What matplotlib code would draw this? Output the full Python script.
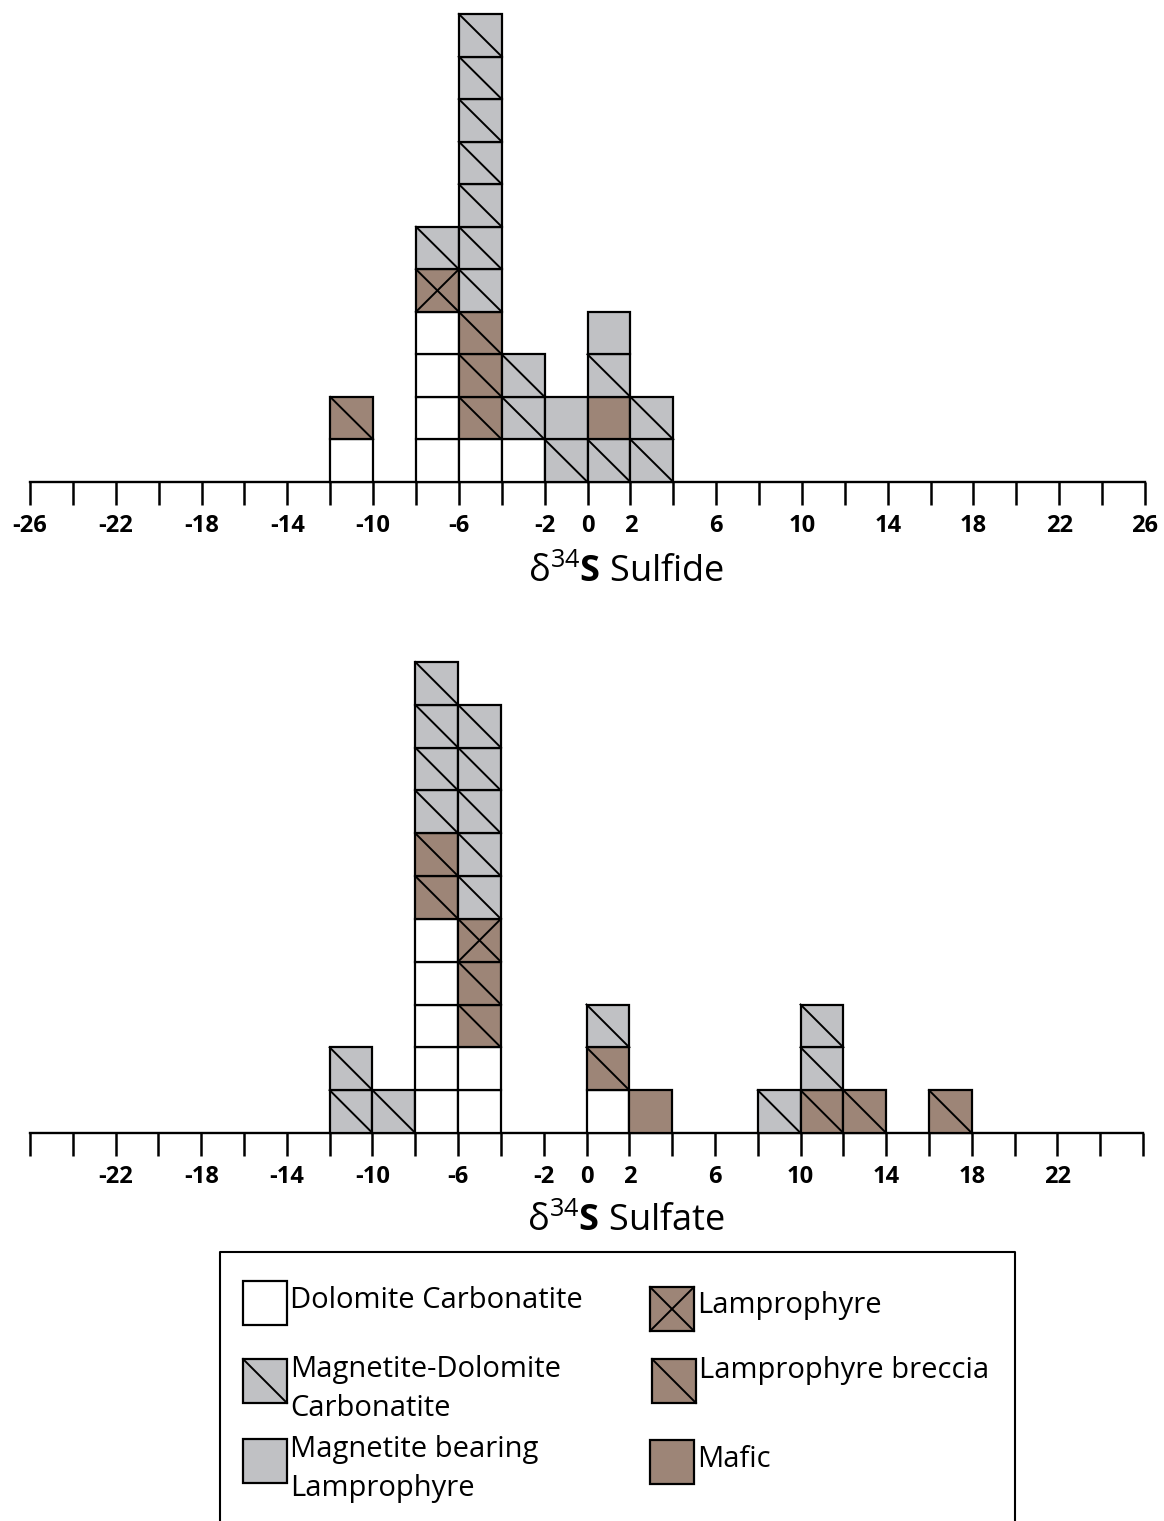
import matplotlib.pyplot as plt
from matplotlib.patches import Rectangle

plt.rcParams['font.family'] = ['Open Sans', 'DejaVu Sans']
plt.rcParams['mathtext.fontset'] = 'custom'
plt.rcParams['mathtext.rm'] = 'Open Sans'
plt.rcParams['mathtext.bf'] = 'Open Sans:bold'

# rock types: DC dolomite carbonatite, MDC magnetite-dolomite carbonatite,
# MBL magnetite bearing lamprophyre, L lamprophyre, LB lamprophyre breccia, M mafic
kinds = ['DC', 'MDC', 'MBL', 'L', 'LB', 'M']
kind_names = ['Dolomite Carbonatite', 'Magnetite-Dolomite\nCarbonatite',
              'Magnetite bearing\nLamprophyre', 'Lamprophyre',
              'Lamprophyre breccia', 'Mafic']

# bin left edges (2 per-mil bins) and stacked samples, bottom to top
sulfide_bins = [-12, -8, -6, -4, -2, 0, 2]
sulfide_stacks = [
    ['DC', 'LB'],
    ['DC', 'DC', 'DC', 'DC', 'L', 'MDC'],
    ['DC', 'LB', 'LB', 'LB', 'MDC', 'MDC', 'MDC', 'MDC', 'MDC', 'MDC', 'MDC'],
    ['DC', 'MDC', 'MDC'],
    ['MDC', 'MBL'],
    ['MDC', 'M', 'MDC', 'MBL'],
    ['MDC', 'MDC'],
]
sulfate_bins = [-12, -10, -8, -6, 0, 2, 8, 10, 12, 16]
sulfate_stacks = [
    ['MDC', 'MDC'],
    ['MDC'],
    ['DC', 'DC', 'DC', 'DC', 'DC', 'LB', 'LB', 'MDC', 'MDC', 'MDC', 'MDC'],
    ['DC', 'DC', 'LB', 'LB', 'L', 'MDC', 'MDC', 'MDC', 'MDC', 'MDC'],
    ['DC', 'LB', 'MDC'],
    ['M'],
    ['MDC'],
    ['LB', 'MDC', 'MDC'],
    ['LB'],
    ['LB'],
]
ticks = list(range(-26, 27, 2))
sulfide_labels = [-26, -22, -18, -14, -10, -6, -2, 0, 2, 6, 10, 14, 18, 22, 26]
sulfate_labels = [-22, -18, -14, -10, -6, -2, 0, 2, 6, 10, 14, 18, 22]

gray = '#c0c1c4'
brown = '#9d8577'
fills = {'DC': 'white', 'MDC': gray, 'MBL': gray, 'L': brown, 'LB': brown, 'M': brown}
diags = {'DC': 0, 'MDC': 1, 'MBL': 0, 'L': 2, 'LB': 1, 'M': 0}


def draw_cell(ax, x0, x1, ybot, ytop, kind):
    ax.add_patch(Rectangle((x0, min(ybot, ytop)), x1 - x0, abs(ytop - ybot),
                           facecolor=fills[kind], edgecolor='black', lw=1.6,
                           zorder=3, clip_on=False))
    if diags[kind] >= 1:
        ax.plot([x0, x1], [ytop, ybot], color='black', lw=1.4, zorder=4, clip_on=False)
    if diags[kind] == 2:
        ax.plot([x0, x1], [ybot, ytop], color='black', lw=1.4, zorder=4, clip_on=False)


def panel(ax, bins, stacks, labels):
    for left, stack in zip(bins, stacks):
        for i, k in enumerate(stack):
            draw_cell(ax, left, left + 2, i, i + 1, k)
    ax.set_xlim(-26, 26)
    ax.set_ylim(0, 11)
    for s in ['top', 'left', 'right']:
        ax.spines[s].set_visible(False)
    ax.spines['bottom'].set_linewidth(1.7)
    ax.set_yticks([])
    ax.set_xticks(ticks)
    ax.set_xticklabels([str(t) if t in labels else '' for t in ticks],
                       fontsize=17, fontweight='bold')
    ax.tick_params(axis='x', direction='out', length=16.5, width=1.8, pad=6.5)
    ax.patch.set_alpha(0)


W, H = 1164, 1521
fig = plt.figure(figsize=(W / 100, H / 100), dpi=100)

ax1 = fig.add_axes([30 / W, 1 - 482 / H, 1115 / W, 468 / H])
panel(ax1, sulfide_bins, sulfide_stacks, sulfide_labels)
ax2 = fig.add_axes([30 / W, 1 - 1133 / H, 1113 / W, 471 / H])
panel(ax2, sulfate_bins, sulfate_stacks, sulfate_labels)

fig.text(626 / W, 1 - 582 / H, r'δ$^{34}$$\mathbf{S}$ Sulfide', fontsize=26,
         ha='center', va='baseline')
fig.text(626 / W, 1 - 1231 / H, r'δ$^{34}$$\mathbf{S}$ Sulfate', fontsize=26,
         ha='center', va='baseline')

# legend, drawn in pixel coordinates
lg = fig.add_axes([0, 0, 1, 1], zorder=-1)
lg.set_xlim(0, W)
lg.set_ylim(H, 0)
lg.axis('off')
lg.plot([220, 220, 1015, 1015], [H, 1252, 1252, H], color='black', lw=1.5)

sw_x = [243, 243, 243, 650, 652, 650]
sw_top = [1281, 1359, 1439, 1287, 1359, 1440]
txt_x = [290, 290, 290, 697, 699, 697]
txt_base = [1308, 1377, 1457, 1313, 1378, 1467]
for k, name, x, yt, tx, tb in zip(kinds, kind_names, sw_x, sw_top, txt_x, txt_base):
    draw_cell(lg, x, x + 44, yt + 44, yt, k)
    for j, line in enumerate(name.split('\n')):
        lg.text(tx, tb + j * 39, line, fontsize=21, ha='left', va='baseline')

fig.savefig('out.png', dpi=100)
